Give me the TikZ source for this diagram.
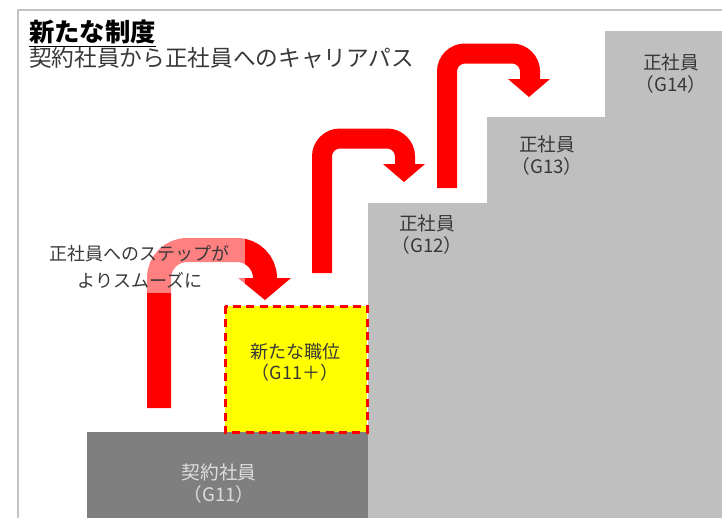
\documentclass[tikz,border=0pt]{standalone}
\usepackage{fontspec}
\setmainfont{Noto Sans CJK JP}
\definecolor{darkg}{HTML}{7F7F7F}
\definecolor{lightg}{HTML}{BFBFBF}
\definecolor{txtg}{HTML}{383838}
\definecolor{paleg}{HTML}{DDDDDD}
\definecolor{framec}{HTML}{C4C4C4}
\definecolor{yel}{HTML}{FFFF00}
\begin{document}
\begin{tikzpicture}[x=0.75pt,y=-0.75pt,
  lbl/.style={align=center,text=txtg,font=\fontsize{14pt}{16.5pt}\selectfont,inner sep=0pt},
  bandbig/.style={draw=red,line width=18pt,rounded corners=21pt},
  band/.style={draw=red,line width=15pt,rounded corners=13.5pt},
  headfill/.style={fill=red}]
\useasboundingbox (0,0) rectangle (722,518);
\clip (0,0) rectangle (722,518);
% frame
\draw[framec,line width=1.5pt] (18,530) -- (18,10) -- (730,10);
% title
\node[anchor=west,inner sep=0pt,text=black,font=\fontsize{19pt}{20pt}\selectfont\bfseries] (title1) at (29,32) {新たな制度};
\draw[black,line width=0.9pt] ([yshift=-1.5pt]title1.south west) -- ([yshift=-1.5pt]title1.south east);
\node[anchor=west,inner sep=0pt,text=txtg,font=\fontsize{17pt}{20pt}\selectfont] (title2) at (29,58) {契約社員から正社員へのキャリアパス};
% staircase
\fill[lightg] (368,530) -- (368,203) -- (487,203) -- (487,117) -- (605,117) -- (605,31) -- (730,31) -- (730,530) -- cycle;
\fill[darkg] (87,432) rectangle (368,530);
% yellow box
\draw[fill=yel,draw=red,line width=2.25pt,dash pattern=on 6pt off 4pt] (225,306) rectangle (367,432);
% arrows
\draw[bandbig] (159,408) -- (159,250) -- (265,250) -- (265,280);
\fill[headfill] (238,278) -- (291,278) -- (265,300) -- cycle;
\draw[band] (322,273) -- (322,138.5) -- (405,138.5) -- (405,166);
\fill[headfill] (383,164) -- (425,164) -- (404,182) -- cycle;
\draw[band] (447,188) -- (447,53.5) -- (530,53.5) -- (530,81);
\fill[headfill] (508,79) -- (550,79) -- (529,97) -- cycle;
% translucent note box
\fill[white,opacity=0.5] (40,232) rectangle (245,293);
\node[lbl,font=\fontsize{13.5pt}{20pt}\selectfont] (note) at (140,267) {正社員へのステップが\\よりスムーズに};
% labels
\node[lbl] (g14) at (671,74) {正社員\\（G14）};
\node[lbl] (g13) at (547,156) {正社員\\（G13）};
\node[lbl] (g12) at (427,235) {正社員\\（G12）};
\node[lbl,text=paleg] (g11) at (219,484) {契約社員\\（G11）};
\node[lbl,font=\fontsize{13.5pt}{15.5pt}\selectfont] (g11p) at (295,362) {新たな職位\\（G11＋）};
\end{tikzpicture}
\end{document}
